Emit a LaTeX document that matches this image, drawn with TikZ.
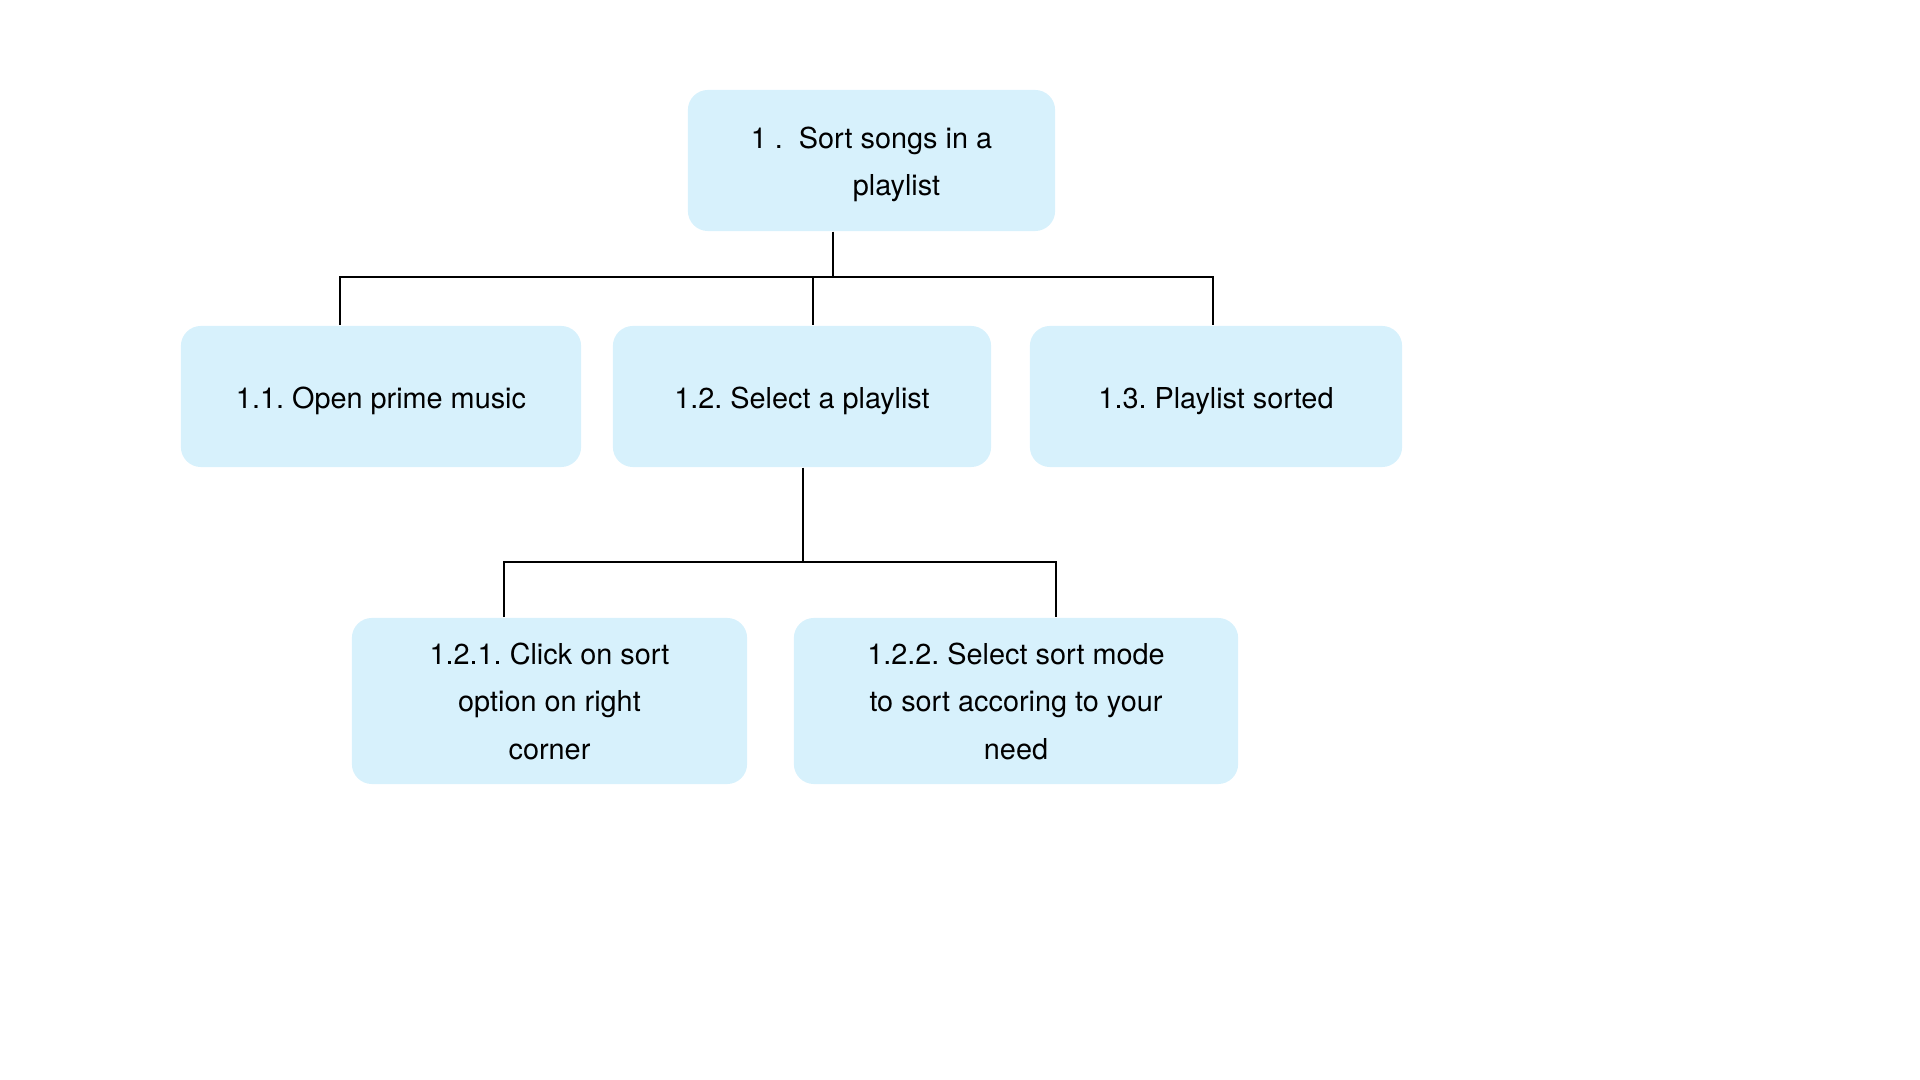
\documentclass[tikz,border=0pt]{standalone}
\usepackage{fontspec}
\setmainfont{TeX Gyre Heros}
\definecolor{boxblue}{RGB}{215,241,252}
\begin{document}
\frenchspacing
\begin{tikzpicture}[x=0.01cm, y=-0.01cm,
    box/.style={fill=boxblue, rounded corners=0.2cm, inner sep=0pt, align=center,
        font=\fontsize{8.2pt}{13.5pt}\selectfont, minimum height=1.41cm},
    oneline/.style={text height=0.31cm, text depth=0.06cm},
    link/.style={line width=0.6pt}]
    \useasboundingbox (0,0) rectangle (1920,1080);
    \node[box, minimum width=3.67cm] (root) at (871.5,160.5) {\rule{0pt}{0.29cm}1 .\ \ Sort songs in a\\ \hspace*{0.5cm}playlist};
    \node[box, oneline, minimum width=4.00cm] (open) at (381,396.5) {1.1. Open prime music};
    \node[box, oneline, minimum width=3.78cm] (select) at (802,396.5) {1.2. Select a playlist};
    \node[box, oneline, minimum width=3.72cm] (sorted) at (1216,396.5) {1.3. Playlist sorted};
    \node[box, minimum width=3.95cm, minimum height=1.66cm] (click) at (549.5,701) {1.2.1. Click on sort\\ option on right\\ corner};
    \node[box, minimum width=4.44cm, minimum height=1.66cm] (mode) at (1016,701) {1.2.2. Select sort mode\\ to sort accoring to your\\ need};
    % first level
    \coordinate (j1) at (833,277);
    \coordinate (d11) at (340,277);
    \coordinate (d12) at (813,277);
    \coordinate (d13) at (1213,277);
    \draw[link] (j1 |- root.south) -- (j1);
    \draw[link] (d11 |- open.north) -- (d11) -- (d13) -- (d13 |- sorted.north);
    \draw[link] (d12) -- (d12 |- select.north);
    % second level
    \coordinate (j2) at (803,562);
    \coordinate (d21) at (504,562);
    \coordinate (d22) at (1056,562);
    \draw[link] (j2 |- select.south) -- (j2);
    \draw[link] (d21 |- click.north) -- (d21) -- (d22) -- (d22 |- mode.north);
\end{tikzpicture}
\end{document}
